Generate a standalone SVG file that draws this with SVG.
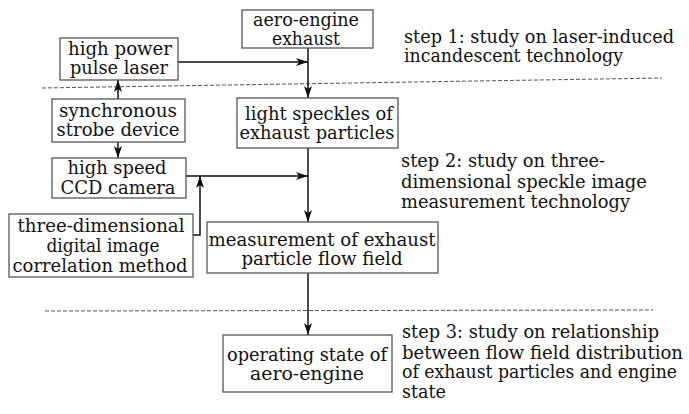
<svg xmlns="http://www.w3.org/2000/svg" width="689" height="414" viewBox="0 0 689 414">
<style>
text{font-family:"DejaVu Serif","Liberation Serif",serif;font-size:18px;fill:#111}
.c{text-anchor:middle}
.box{fill:#fff;stroke:#555;stroke-width:1.3}
.ln{fill:none;stroke:#111;stroke-width:1.5}
.dash{fill:none;stroke:#555;stroke-width:1;stroke-dasharray:4 2}
</style>
<defs>
<marker id="ah" viewBox="0 0 12 8" refX="12" refY="4" markerWidth="12" markerHeight="8" markerUnits="userSpaceOnUse" orient="auto">
<path d="M0,0 L12,4 L0,8 L3,4 Z" fill="#111"/>
</marker>
</defs>
<rect width="689" height="414" fill="#fff"/>
<g id="dividers">
<line class="dash" x1="42" y1="88" x2="662" y2="78"/>
<line class="dash" x1="45" y1="311" x2="653" y2="310"/>
</g>
<g id="connectors">
<line class="ln" x1="178" y1="62" x2="308" y2="62" marker-end="url(#ah)"/>
<line class="ln" x1="308" y1="48" x2="308" y2="98" marker-end="url(#ah)"/>
<line class="ln" x1="308" y1="148" x2="308" y2="222" marker-end="url(#ah)"/>
<line class="ln" x1="186" y1="176" x2="308" y2="176" marker-end="url(#ah)"/>
<polyline class="ln" points="193,235 200,235 200,176" marker-end="url(#ah)"/>
<line class="ln" x1="118" y1="99" x2="118" y2="80" marker-end="url(#ah)"/>
<line class="ln" x1="118" y1="142" x2="118" y2="158" marker-end="url(#ah)"/>
<line class="ln" x1="308" y1="273" x2="308" y2="335" marker-end="url(#ah)"/>
</g>
<g id="aero-engine-exhaust">
<rect class="box" x="242" y="10" width="131" height="38"/>
<text class="c" x="306" y="26" textLength="106" lengthAdjust="spacingAndGlyphs">aero-engine</text>
<text class="c" x="306" y="45" textLength="68" lengthAdjust="spacingAndGlyphs">exhaust</text>
</g>
<g id="laser">
<rect class="box" x="60" y="38" width="118" height="42"/>
<text class="c" x="120" y="55" textLength="104" lengthAdjust="spacingAndGlyphs">high power</text>
<text class="c" x="119" y="74" textLength="98" lengthAdjust="spacingAndGlyphs">pulse laser</text>
</g>
<g id="strobe">
<rect class="box" x="52" y="99" width="133" height="43"/>
<text class="c" x="118" y="117" textLength="118" lengthAdjust="spacingAndGlyphs">synchronous</text>
<text class="c" x="118" y="136" textLength="123" lengthAdjust="spacingAndGlyphs">strobe device</text>
</g>
<g id="ccd">
<rect class="box" x="52" y="158" width="134" height="40"/>
<text class="c" x="117" y="174" textLength="99" lengthAdjust="spacingAndGlyphs">high speed</text>
<text class="c" x="118" y="194" textLength="115" lengthAdjust="spacingAndGlyphs">CCD camera</text>
</g>
<g id="correlation">
<rect class="box" x="9" y="214" width="184" height="63"/>
<text class="c" x="101" y="232" textLength="167" lengthAdjust="spacingAndGlyphs">three-dimensional</text>
<text class="c" x="103" y="252" textLength="113" lengthAdjust="spacingAndGlyphs">digital image</text>
<text class="c" x="100" y="272" textLength="175" lengthAdjust="spacingAndGlyphs">correlation method</text>
</g>
<g id="speckles">
<rect class="box" x="237" y="98" width="161" height="50"/>
<text class="c" x="319" y="120" textLength="148" lengthAdjust="spacingAndGlyphs">light speckles of</text>
<text class="c" x="317" y="139" textLength="155" lengthAdjust="spacingAndGlyphs">exhaust particles</text>
</g>
<g id="measurement">
<rect class="box" x="207" y="222" width="231" height="51"/>
<text class="c" x="322" y="246" textLength="227" lengthAdjust="spacingAndGlyphs">measurement of exhaust</text>
<text class="c" x="322" y="265" textLength="161" lengthAdjust="spacingAndGlyphs">particle flow field</text>
</g>
<g id="operating">
<rect class="box" x="223" y="335" width="169" height="57"/>
<text class="c" x="307" y="361" textLength="160" lengthAdjust="spacingAndGlyphs">operating state of</text>
<text class="c" x="307" y="380" textLength="114" lengthAdjust="spacingAndGlyphs">aero-engine</text>
</g>
<g id="step-labels">
<text x="404" y="43" textLength="270" lengthAdjust="spacingAndGlyphs">step 1: study on laser-induced</text>
<text x="404" y="62" textLength="219" lengthAdjust="spacingAndGlyphs">incandescent technology</text>
<text x="401" y="167" textLength="204" lengthAdjust="spacingAndGlyphs">step 2: study on three-</text>
<text x="401" y="188" textLength="246" lengthAdjust="spacingAndGlyphs">dimensional speckle image</text>
<text x="401" y="208" textLength="229" lengthAdjust="spacingAndGlyphs">measurement technology</text>
<text x="402" y="338" textLength="257" lengthAdjust="spacingAndGlyphs">step 3: study on relationship</text>
<text x="402" y="359" textLength="281" lengthAdjust="spacingAndGlyphs">between flow field distribution</text>
<text x="402" y="378" textLength="275" lengthAdjust="spacingAndGlyphs">of exhaust particles and engine</text>
<text x="402" y="398" textLength="44" lengthAdjust="spacingAndGlyphs">state</text>
</g>
</svg>
